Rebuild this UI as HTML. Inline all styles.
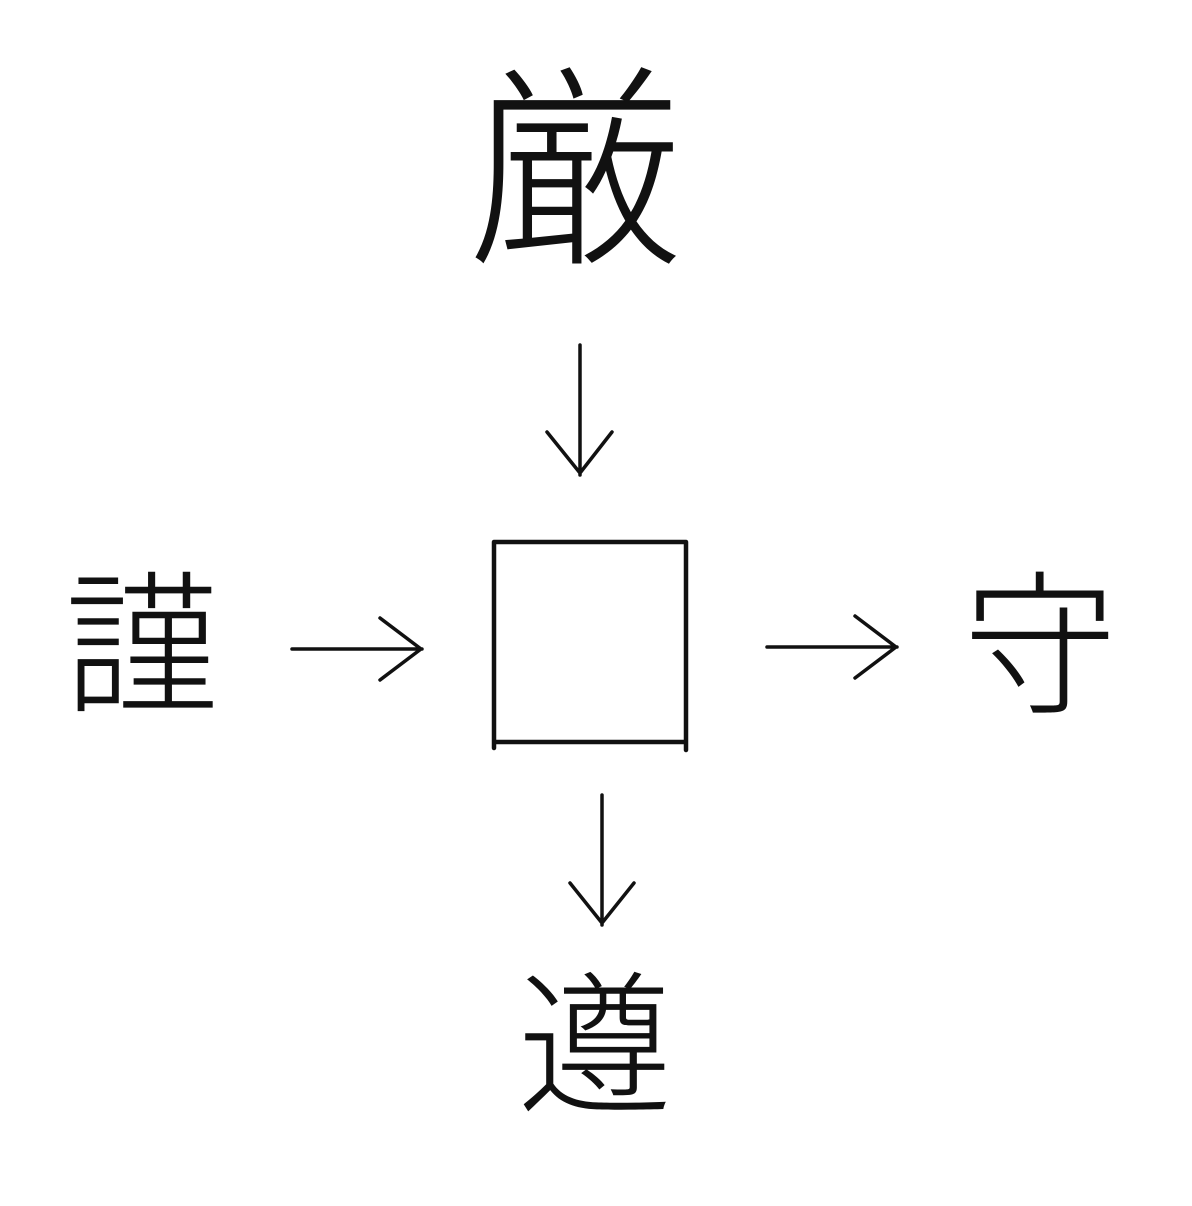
<!DOCTYPE html>
<html><head><meta charset="utf-8"><style>
html,body{margin:0;padding:0;background:#fff;}
body{width:1192px;height:1206px;position:relative;overflow:hidden;}
.k{position:absolute;font-family:"Liberation Sans","Noto Sans CJK JP",sans-serif;font-weight:300;color:#111;line-height:1;text-align:center;}
svg{position:absolute;left:0;top:0;}
</style></head><body>
<div class="k" style="left:465px;top:65px;width:220px;font-size:215px;">厳</div>
<div class="k" style="left:62px;top:570px;width:160px;font-size:155px;">謹</div>
<div class="k" style="left:960px;top:570px;width:160px;font-size:155px;">守</div>
<div class="k" style="left:515px;top:970px;width:160px;font-size:155px;">遵</div>
<svg width="1192" height="1206" fill="none" stroke="#111" stroke-width="4.5" stroke-linecap="round" stroke-linejoin="round">
<path d="M494 542 H686 M494 542 V748 M686 542 V750 M494 742 H686"/>
<g stroke-width="3.5">
<path d="M580 345 V475 M547 432 L580 473 L612 432"/>
<path d="M602 795 V925 M570 883 L602 923 L634 883"/>
<path d="M292 649 H422 M380 618 L421 649 L380 680"/>
<path d="M767 647 H897 M855 616 L896 647 L855 678"/>
</g>
</svg>
</body></html>
